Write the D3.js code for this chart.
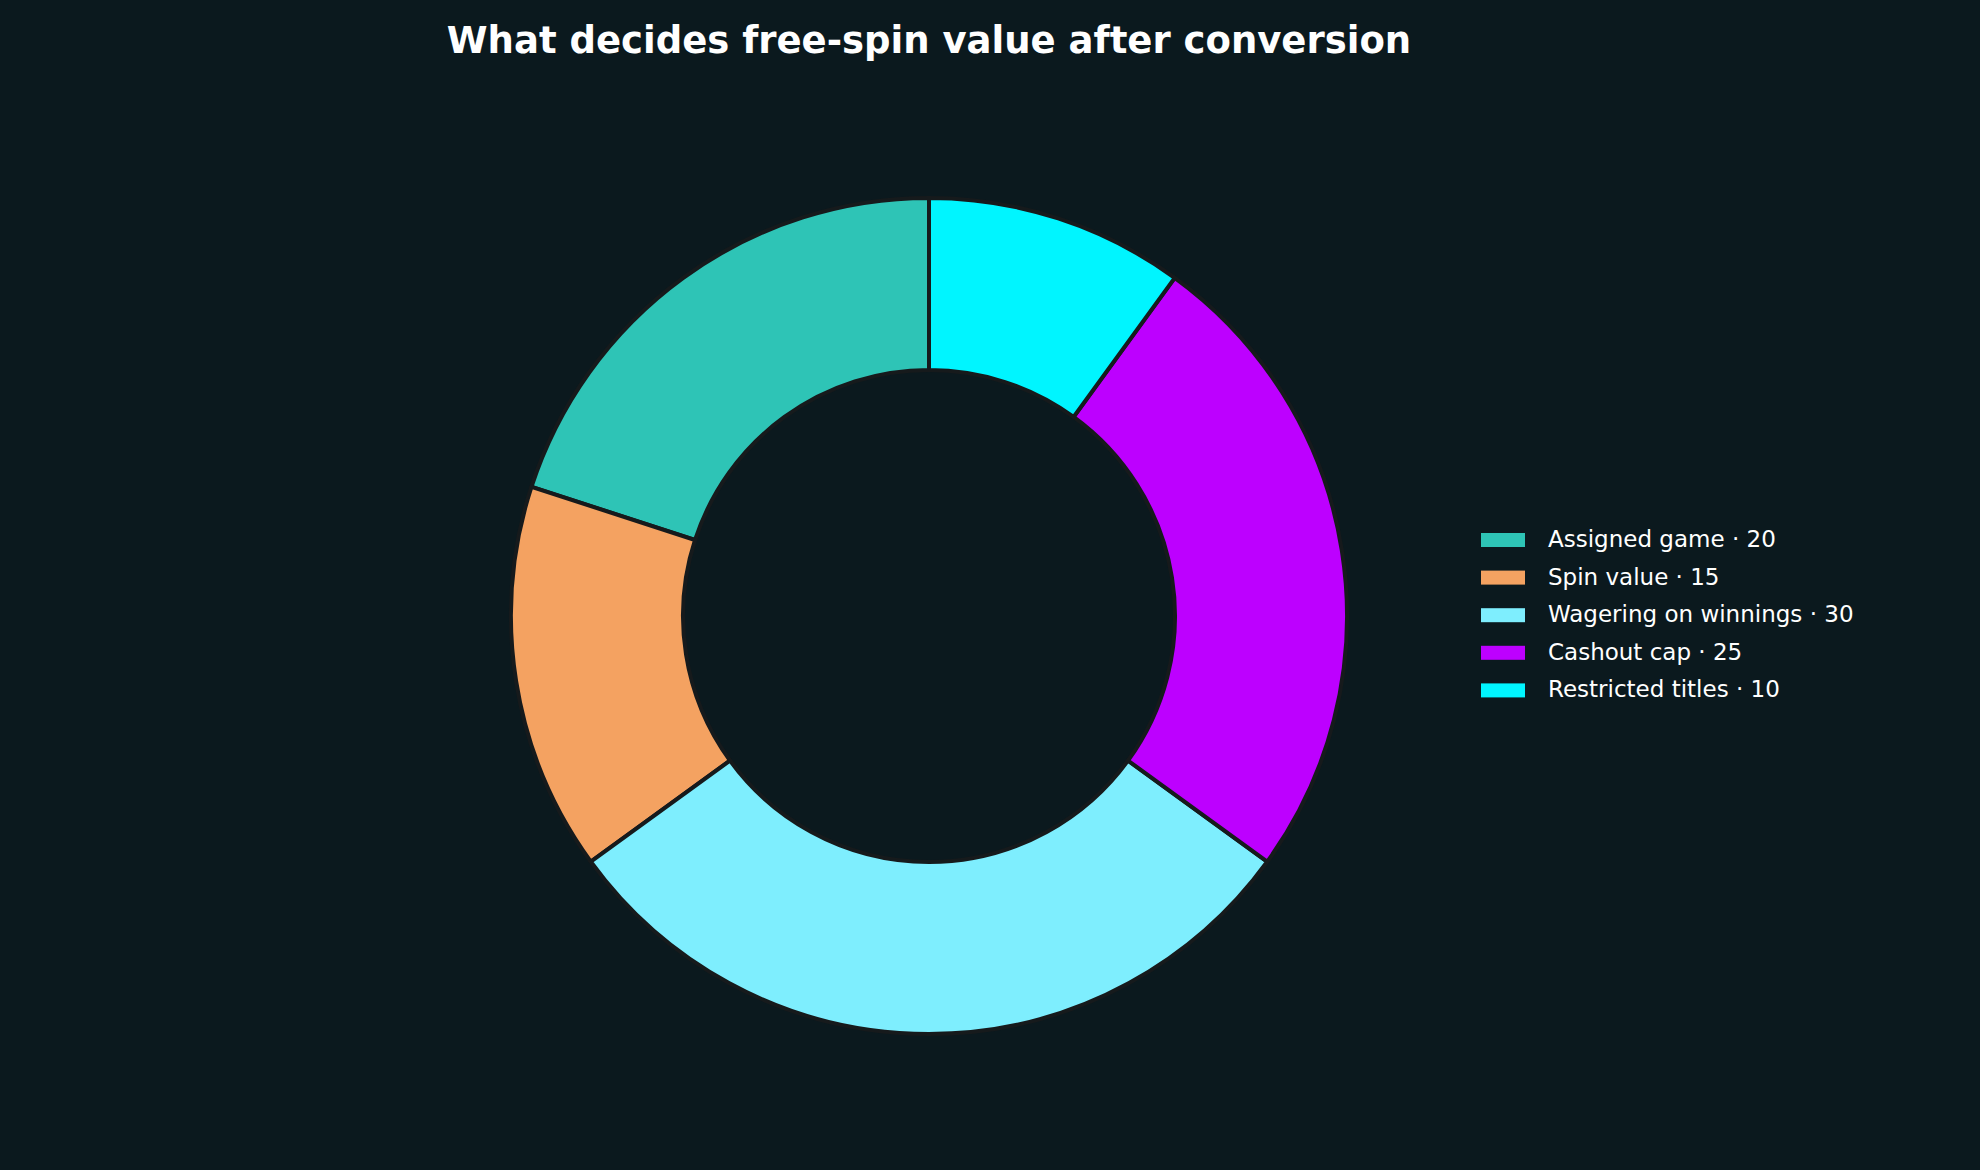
<!DOCTYPE html>
<html>
<head>
<meta charset="utf-8">
<script src="https://cdn.jsdelivr.net/npm/d3@7"></script>
<style>
  html, body { margin: 0; padding: 0; background: #0b191e; }
  svg { display: block; font-family: "DejaVu Sans", sans-serif; }
</style>
</head>
<body>
<div id="chart"></div>
<script>
const categories = ['Assigned game', 'Spin value', 'Wagering on winnings', 'Cashout cap', 'Restricted titles'];
const values = [20, 15, 30, 25, 10];
const colors = ['#2ec4b6', '#f4a261', '#7eeefe', '#bd00ff', '#00f5ff'];
const title = 'What decides free-spin value after conversion';

const width = 1980, height = 1170;
const cx = 929, cy = 616, outerR = 418, innerR = 246;

const svg = d3.select('#chart').append('svg')
    .attr('width', width)
    .attr('height', height);

svg.append('rect').attr('width', width).attr('height', height).attr('fill', '#0b191e');

svg.append('text')
    .attr('x', cx).attr('y', 53)
    .attr('text-anchor', 'middle')
    .attr('fill', '#ffffff')
    .attr('font-size', 37)
    .attr('font-weight', 'bold')
    .text(title);

const entries = categories.map((c, i) => ({ key: c, val: values[i], color: colors[i] }));

// counter-clockwise from the top, like matplotlib
const pie = d3.pie().value(d => d.val).sort(null)
    .startAngle(0).endAngle(-2 * Math.PI);

const arc = d3.arc().innerRadius(innerR).outerRadius(outerR);

const g = svg.append('g').attr('transform', `translate(${cx},${cy})`);
g.selectAll('path')
  .data(pie(entries))
  .join('path')
    .attr('d', arc)
    .attr('fill', d => d.data.color)
    .attr('stroke', '#161a1c')
    .attr('stroke-width', 4);

// Legend
const legend = svg.append('g').attr('transform', 'translate(1481,540)');
const row = legend.selectAll('g')
  .data(entries)
  .join('g')
    .attr('transform', (d, i) => `translate(0,${i * 37.6})`);
row.append('rect')
    .attr('x', 0).attr('y', -7)
    .attr('width', 44).attr('height', 14)
    .attr('fill', d => d.color);
row.append('text')
    .attr('x', 67).attr('y', 7)
    .attr('fill', '#ffffff')
    .attr('font-size', 23)
    .text(d => `${d.key} · ${d.val}`);
</script>
</body>
</html>
